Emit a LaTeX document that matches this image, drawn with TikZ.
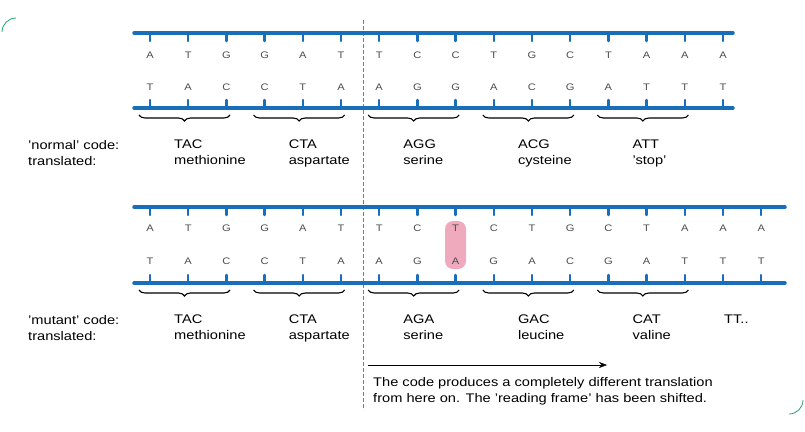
\documentclass[tikz,border=0pt]{standalone}
\usepackage{fontspec}
\setmainfont{Liberation Sans}[FakeStretch=1.17]
\usetikzlibrary{decorations.pathreplacing,arrows.meta}
\definecolor{strandblue}{RGB}{25,110,185}
\definecolor{cutred}{RGB}{230,80,60}
\definecolor{framegreen}{RGB}{40,160,110}
\definecolor{mutpink}{RGB}{240,170,190}
\tikzset{
  strand/.style={line width=3.5pt,color=strandblue,line cap=round},
  tick/.style={line width=2.5pt,color=strandblue,line cap=round},
  base/.style={font=\fontsize{9.5}{10}\selectfont,color=black!70,inner sep=0pt},
  codon/.style={decorate,decoration={brace,mirror,amplitude=6pt},line width=1.1pt},
  label/.style={font=\fontsize{12.5}{16}\selectfont,align=left,anchor=north west,inner sep=0pt},
}
\begin{document}
\begin{tikzpicture}[x=1pt,y=-1pt]
\useasboundingbox (0,0) rectangle (805,431);
% Frame corners
\draw[framegreen,thick] (2,32) arc (180:270:14);
\draw[framegreen,thick] (803,400) arc (0:90:14);
% Frame shift line
\draw[cutred,line width=1pt,dash pattern=on 4pt off 2pt] (363,20) -- (363,410);
% Normal strands
\draw[strand] (134,33) -- (733,33);
\draw[strand] (134,108) -- (733,108);
\foreach \t [count=\i from 0] in {A,T,G,G,A,T,T,C,C,T,G,C,T,A,A,A} {
  \draw[tick] (150+38.2*\i,33) -- (150+38.2*\i,41);
  \node[base] (nt\i) at (150+38.2*\i,55) {\t};
}
\foreach \t [count=\i from 0] in {T,A,C,C,T,A,A,G,G,A,C,G,A,T,T,T} {
  \draw[tick] (150+38.2*\i,108) -- (150+38.2*\i,100);
  \node[base] (nb\i) at (150+38.2*\i,87) {\t};
}
% Mutant strands
\draw[strand] (134,207) -- (785,207);
\draw[strand] (134,283) -- (785,283);
\fill[mutpink,rounded corners=8pt] (445,221) rectangle (466,269);
\foreach \t [count=\i from 0] in {A,T,G,G,A,T,T,C,T,C,T,G,C,T,A,A,A} {
  \draw[tick] (150+38.2*\i,207) -- (150+38.2*\i,215);
  \node[base] (mt\i) at (150+38.2*\i,228) {\t};
}
\foreach \t [count=\i from 0] in {T,A,C,C,T,A,A,G,A,G,A,C,G,A,T,T,T} {
  \draw[tick] (150+38.2*\i,283) -- (150+38.2*\i,275);
  \node[base] (mb\i) at (150+38.2*\i,261) {\t};
}
% Codon braces
\foreach \k in {0,...,4} {
  \draw[codon] (139+114.6*\k,115) -- (230+114.6*\k,115);
  \draw[codon] (139+114.6*\k,290) -- (230+114.6*\k,290);
}
% Normal translation
\node[label] (nlab) at (28,140) {'normal' code:\\translated:};
\foreach \c/\a [count=\k from 0] in {TAC/methionine,CTA/aspartate,AGG/serine,ACG/cysteine,ATT/'stop'}
  \node[label] (ncod\k) at (174+114.6*\k,140) {\c\\\a};
% Mutant translation
\node[label] (mlab) at (28,315) {'mutant' code:\\translated:};
\foreach \c/\a [count=\k from 0] in {TAC/methionine,CTA/aspartate,AGA/serine,GAC/leucine,CAT/valine}
  \node[label] (mcod\k) at (174+114.6*\k,315) {\c\\\a};
\node[label] (mcod5) at (724,315) {TT..};
% Shift arrow
\coordinate (sA) at (368,365);
\coordinate (sB) at (607,365);
\draw[-{Stealth[length=8pt]}] (sA) -- (sB);
\node[label] (note) at (373,377) {The code produces a completely different translation\\from here on. The 'reading frame' has been shifted.};
\end{tikzpicture}
\end{document}
